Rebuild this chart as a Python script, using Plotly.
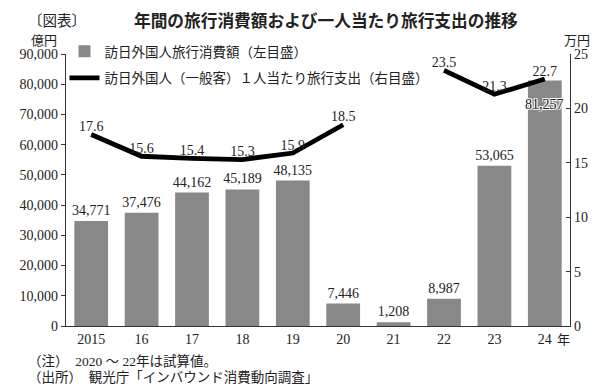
import plotly.graph_objects as go

years = ["2015", "16", "17", "18", "19", "20", "21", "22", "23", "24"]
spending = [34771, 37476, 44162, 45189, 48135, 7446, 1208, 8987, 53065, 81257]
per_person = [17.6, 15.6, 15.4, 15.3, 15.9, 18.5, None, 23.5, 21.3, 22.7]
left_ticks = [0, 10000, 20000, 30000, 40000, 50000, 60000, 70000, 80000, 90000]
right_ticks = [0, 5, 10, 15, 20, 25]

FONT = "Liberation Serif, Noto Sans CJK JP"
JP = "Noto Sans CJK JP, Liberation Serif"
BAR_COLOR = "#888888"
TXT = "#222222"

bar_text = [f"{v:,}" for v in spending[:-1]] + [""]

fig = go.Figure()
fig.add_trace(go.Bar(
    x=years, y=spending, name="訪日外国人旅行消費額（左目盛）",
    marker=dict(color=BAR_COLOR, line=dict(width=0)),
    text=bar_text, textposition="outside", cliponaxis=False, constraintext="none",
    textfont=dict(family=FONT, size=14, color=TXT),
    legendgroup="a", yaxis="y",
))
fig.add_trace(go.Scatter(
    x=years, y=per_person, name="訪日外国人（一般客）１人当たり旅行支出（右目盛）",
    mode="lines+text", line=dict(color="black", width=4.8),
    text=[("" if v is None else f"{v}") for v in per_person],
    textposition="top center", cliponaxis=False,
    textfont=dict(family=FONT, size=14, color=TXT),
    connectgaps=False, legendgroup="b", yaxis="y2",
))

last = len(years) - 1
annotations = [
    dict(text=f"{spending[last]:,}", x=last, y=spending[last], xref="x", yref="y",
         yshift=-24, showarrow=False,
         font=dict(family=FONT, size=14, color=TXT,
                   shadow="1px 1px 0 white, -1px -1px 0 white, 1px -1px 0 white, -1px 1px 0 white")),
    dict(text="〔図表〕", x=-0.080, y=1.127, xref="paper", yref="paper", xanchor="left",
         yanchor="middle", showarrow=False, font=dict(family=JP, size=14.5, color=TXT)),
    dict(text="億円", x=-0.044, y=1.052, xref="paper", yref="paper", xanchor="center",
         yanchor="middle", showarrow=False, font=dict(family=JP, size=13, color=TXT)),
    dict(text="万円", x=1.0134, y=1.052, xref="paper", yref="paper", xanchor="center",
         yanchor="middle", showarrow=False, font=dict(family=JP, size=13, color=TXT)),
    dict(text="年", x=0.987, y=-0.045, xref="paper", yref="paper", xanchor="center",
         yanchor="middle", showarrow=False, font=dict(family=JP, size=13, color=TXT)),
    dict(text="（注）  2020 ～ 22年は試算値。", x=-0.080, y=-0.129, xref="paper", yref="paper",
         xanchor="left", yanchor="middle", showarrow=False,
         font=dict(family=FONT, size=13.5, color=TXT)),
    dict(text="（出所）  観光庁「インバウンド消費動向調査」", x=-0.080, y=-0.191, xref="paper",
         yref="paper", xanchor="left", yanchor="middle", showarrow=False,
         font=dict(family=FONT, size=13.5, color=TXT)),
]

fig.update_layout(
    width=592, height=381,
    margin=dict(l=42, r=27, t=46, b=63),
    paper_bgcolor="white", plot_bgcolor="white",
    bargap=0.33,
    title=dict(text="<b>年間の旅行消費額および一人当たり旅行支出の推移</b>",
               x=0.537, xanchor="center", y=0.966, yanchor="middle",
               font=dict(family=JP, size=16.7, color=TXT)),
    xaxis=dict(type="category", range=[-0.5, len(years) - 0.5],
               showline=True, linecolor="#333333", linewidth=1.2,
               ticks="", tickangle=0, tickfont=dict(family=FONT, size=14, color=TXT),
               showgrid=False, zeroline=False),
    yaxis=dict(range=[0, 90000], tickvals=left_ticks,
               ticktext=[f"{v:,}" for v in left_ticks],
               showline=True, linecolor="#333333", linewidth=1.2,
               ticks="outside", ticklen=4, tickcolor="#333333",
               tickfont=dict(family=FONT, size=14, color=TXT),
               showgrid=False, zeroline=False),
    yaxis2=dict(range=[0, 25], tickvals=right_ticks, overlaying="y", side="right",
                showline=True, linecolor="#333333", linewidth=1.2,
                ticks="inside", ticklen=4, tickcolor="#333333",
                tickfont=dict(family=FONT, size=14, color=TXT),
                showgrid=False, zeroline=False),
    showlegend=True,
    legend=dict(x=-0.003, y=1.066, xanchor="left", yanchor="top",
                bgcolor="rgba(0,0,0,0)", traceorder="grouped", tracegroupgap=6,
                itemwidth=30, font=dict(family=JP, size=13.5, color=TXT)),
    annotations=annotations,
)

fig.write_html("out.html")
